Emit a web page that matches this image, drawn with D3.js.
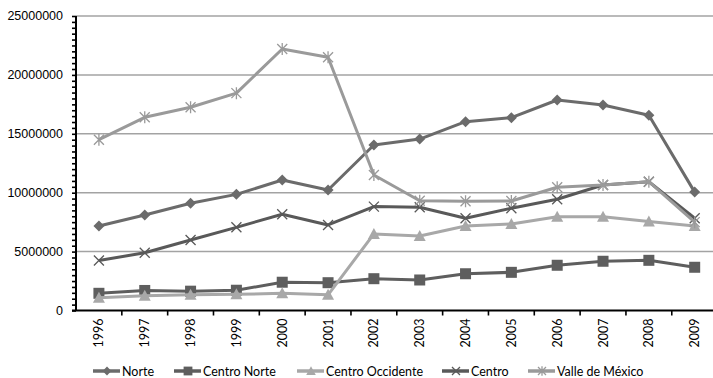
<!DOCTYPE html>
<html>
<head>
<meta charset="utf-8">
<script src="https://cdn.jsdelivr.net/npm/d3@7"></script>
<style>
  html, body { margin: 0; padding: 0; background: #fff; }
  svg { display: block; font-family: Lato, "Open Sans", sans-serif; }
</style>
</head>
<body>
<svg id="chart" width="713" height="378"></svg>
<script>
// Regional series, 1996–2009
const years = ["1996","1997","1998","1999","2000","2001","2002","2003","2004","2005","2006","2007","2008","2009"];
const norte = [7170000, 8100000, 9100000, 9860000, 11080000, 10230000, 14050000, 14550000, 16030000, 16370000, 17870000, 17450000, 16580000, 10050000];
const centroNorte = [1460000, 1700000, 1640000, 1720000, 2400000, 2360000, 2700000, 2590000, 3120000, 3240000, 3840000, 4180000, 4260000, 3670000];
const centroOccidente = [1080000, 1250000, 1340000, 1370000, 1460000, 1330000, 6500000, 6320000, 7170000, 7340000, 7960000, 7960000, 7560000, 7170000];
const centro = [4240000, 4900000, 5980000, 7060000, 8170000, 7260000, 8820000, 8760000, 7830000, 8680000, 9440000, 10650000, 10930000, 7830000];
const valleMexico = [14500000, 16400000, 17250000, 18450000, 22200000, 21500000, 11500000, 9320000, 9280000, 9300000, 10460000, 10650000, 10930000, 7500000];
const yTicks = [0, 5000000, 10000000, 15000000, 20000000, 25000000];
const seriesNames = ["Norte", "Centro Norte", "Centro Occidente", "Centro", "Valle de México"];

const series = [
  { name: seriesNames[0], values: norte,           color: "#6b6b6b", marker: "diamond" },
  { name: seriesNames[1], values: centroNorte,     color: "#5e5e5e", marker: "square" },
  { name: seriesNames[2], values: centroOccidente, color: "#a8a8a8", marker: "triangle" },
  { name: seriesNames[3], values: centro,          color: "#595959", marker: "cross" },
  { name: seriesNames[4], values: valleMexico,     color: "#9a9a9a", marker: "star" }
];

const svg = d3.select("#chart");
const plotLeft = 76, plotRight = 717.6, plotTop = 16, plotBottom = 310.5;

const x = d3.scaleBand().domain(years).range([plotLeft, plotRight]);
const y = d3.scaleLinear().domain([0, 25000000]).range([plotBottom, plotTop]);

// horizontal gridlines
svg.append("g")
  .selectAll("line")
  .data(yTicks.filter(d => d > 0))
  .join("line")
  .attr("x1", plotLeft).attr("x2", 713)
  .attr("y1", d => y(d)).attr("y2", d => y(d))
  .attr("stroke", "#a3a3a3").attr("stroke-width", 1.5);

// y axis with minor ticks every 500000
const yAxis = svg.append("g").attr("transform", `translate(${plotLeft},0)`);
yAxis.call(d3.axisLeft(y).tickValues(d3.range(0, 25000001, 500000)).tickSize(4).tickFormat(""))
  .call(g => g.select(".domain").remove())
  .call(g => g.selectAll("line").attr("stroke", "#000").attr("stroke-width", 1.6));
yAxis.selectAll(".lbl")
  .data(yTicks)
  .join("text")
  .attr("class", "lbl")
  .attr("x", -13).attr("y", d => y(d))
  .attr("dy", "0.35em")
  .attr("text-anchor", "end")
  .attr("font-size", 12.5)
  .attr("fill", "#000")
  .text(d => d);
yAxis.append("line")
  .attr("x1", 0).attr("x2", 0).attr("y1", plotTop).attr("y2", plotBottom)
  .attr("stroke", "#000").attr("stroke-width", 2);

// x axis
const xAxis = svg.append("g").attr("transform", `translate(0,${plotBottom})`);
xAxis.append("line")
  .attr("x1", plotLeft - 4).attr("x2", 713)
  .attr("stroke", "#000").attr("stroke-width", 2);
xAxis.selectAll(".tk")
  .data(years)
  .join("line")
  .attr("class", "tk")
  .attr("x1", d => x(d) + x.bandwidth()).attr("x2", d => x(d) + x.bandwidth())
  .attr("y1", 0).attr("y2", 5)
  .attr("stroke", "#000").attr("stroke-width", 1.6);
xAxis.selectAll(".yl")
  .data(years)
  .join("text")
  .attr("class", "yl")
  .attr("transform", d => `translate(${x(d) + x.bandwidth() / 2},8) rotate(-90)`)
  .attr("text-anchor", "end")
  .attr("dy", "0.36em")
  .attr("font-size", 12.5)
  .attr("fill", "#000")
  .text(d => d);

// marker shapes
function drawMarker(g, type, color, cx, cy, s = 1) {
  if (type === "diamond") {
    g.append("path").attr("d", `M${cx},${cy-5.5*s}L${cx+5.5*s},${cy}L${cx},${cy+5.5*s}L${cx-5.5*s},${cy}Z`).attr("fill", color);
  } else if (type === "square") {
    g.append("rect").attr("x", cx - 5.5*s).attr("y", cy - 5.5*s).attr("width", 11*s).attr("height", 11*s).attr("fill", color);
  } else if (type === "triangle") {
    g.append("path").attr("d", `M${cx},${cy-6*s}L${cx+6*s},${cy+5*s}L${cx-6*s},${cy+5*s}Z`).attr("fill", color);
  } else if (type === "cross") {
    g.append("path").attr("d", `M${cx-5*s},${cy-5*s}L${cx+5*s},${cy+5*s}M${cx+5*s},${cy-5*s}L${cx-5*s},${cy+5*s}`)
      .attr("stroke", color).attr("stroke-width", 1.3);
  } else if (type === "star") {
    g.append("path").attr("d", `M${cx-5*s},${cy-5*s}L${cx+5*s},${cy+5*s}M${cx+5*s},${cy-5*s}L${cx-5*s},${cy+5*s}M${cx},${cy-6*s}L${cx},${cy+6*s}`)
      .attr("stroke", color).attr("stroke-width", 1.3);
  }
}

const line = d3.line()
  .x((d, i) => x(years[i]) + x.bandwidth() / 2)
  .y(d => y(d));

series.forEach(s => {
  const g = svg.append("g");
  g.append("path")
    .datum(s.values)
    .attr("d", line)
    .attr("fill", "none")
    .attr("stroke", s.color)
    .attr("stroke-width", 3)
    .attr("stroke-linejoin", "round");
  s.values.forEach((v, i) => drawMarker(g, s.marker, s.color, x(years[i]) + x.bandwidth() / 2, y(v)));
});

// legend
const legendPos = [93, 174, 297, 442, 528];
const legend = svg.append("g").attr("transform", "translate(0,371)");
series.forEach((s, i) => {
  const lg = legend.append("g").attr("transform", `translate(${legendPos[i]},0)`);
  lg.append("line").attr("x1", 0).attr("x2", 27).attr("y1", 0).attr("y2", 0)
    .attr("stroke", s.color).attr("stroke-width", 3.5);
  drawMarker(lg, s.marker, s.color, 14, 0, 0.8);
  lg.append("text").attr("x", 29).attr("y", 0).attr("dy", "0.36em")
    .attr("font-size", 12.5).attr("fill", "#000").text(s.name);
});
</script>
</body>
</html>
